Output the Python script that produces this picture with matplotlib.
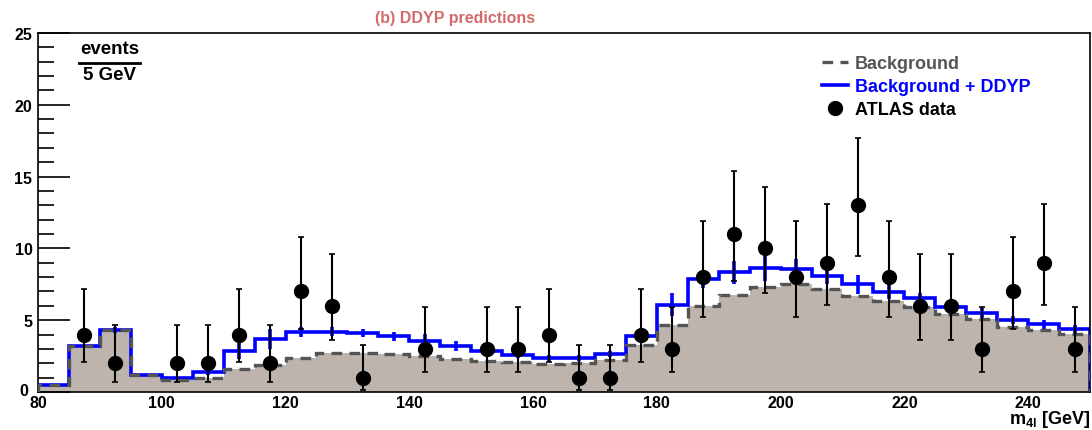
import matplotlib.pyplot as plt
from matplotlib.lines import Line2D
from matplotlib.transforms import ScaledTranslation
import numpy as np

plt.rcParams['font.family'] = ['Liberation Sans', 'DejaVu Sans']
plt.rcParams['font.weight'] = 'bold'
plt.rcParams['mathtext.fontset'] = 'custom'
plt.rcParams['mathtext.rm'] = 'Liberation Sans:bold'
plt.rcParams['mathtext.it'] = 'Liberation Sans:bold'

# 5 GeV bins between 80 and 250 GeV
bin_edges = np.arange(80, 255, 5)

background = [0.5, 3.23, 4.33, 1.18, 0.84, 0.98, 1.57, 1.88, 2.4, 2.68,
              2.71, 2.62, 2.5, 2.33, 2.17, 2.07, 1.98, 2.05, 2.24, 3.27,
              4.67, 5.98, 6.75, 7.32, 7.5, 7.17, 6.7, 6.33, 5.9, 5.45,
              5.05, 4.55, 4.33, 4.04]
bkg_plus_ddyp = [0.5, 3.23, 4.33, 1.18, 0.97, 1.38, 2.88, 3.69, 4.2, 4.2,
                 4.12, 3.88, 3.57, 3.22, 2.88, 2.57, 2.37, 2.37, 2.67, 3.9,
                 6.08, 7.87, 8.33, 8.63, 8.55, 8.1, 7.5, 6.99, 6.52, 5.95,
                 5.47, 5.02, 4.7, 4.39]
bkg_plus_ddyp_err = [0, 0.05, 0.2, 0.05, 0.1, 0.2, 0.6, 0.7, 0.35, 0.3,
                     0.3, 0.3, 0.45, 0.35, 0.2, 0.2, 0.2, 0.2, 0.2, 0.3,
                     0.8, 0.6, 0.8, 0.9, 0.7, 0.6, 0.65, 0.5, 0.4, 0.35,
                     0.35, 0.3, 0.3, 0.25]

data_mass = [87.5, 92.5, 102.5, 107.5, 112.5, 117.5, 122.5, 127.5, 132.5,
             142.5, 152.5, 157.5, 162.5, 167.5, 172.5, 177.5, 182.5, 187.5,
             192.5, 197.5, 202.5, 207.5, 212.5, 217.5, 222.5, 227.5, 232.5,
             237.5, 242.5, 247.5]
data_events = [4, 2, 2, 2, 4, 2, 7, 6, 1, 3, 3, 3, 4, 1, 1, 4, 3, 8, 11, 10,
               8, 9, 13, 8, 6, 6, 3, 7, 9, 3]
data_err_lo = [1.91, 1.29, 1.29, 1.29, 1.91, 1.29, 2.58, 2.38, 0.83, 1.63,
               1.63, 1.63, 1.91, 0.83, 0.83, 1.91, 1.63, 2.77, 3.26, 3.11,
               2.77, 2.94, 3.56, 2.77, 2.38, 2.38, 1.63, 2.58, 2.94, 1.63]
data_err_hi = [3.16, 2.64, 2.64, 2.64, 3.16, 2.64, 3.77, 3.58, 2.30, 2.92,
               2.92, 2.92, 3.16, 2.30, 2.30, 3.16, 2.92, 3.94, 4.40, 4.26,
               3.94, 4.11, 4.67, 3.94, 3.58, 3.58, 2.92, 3.77, 4.11, 2.92]

BLUE = '#0000ff'
GREY = '#555555'
FILL = '#bdb5ad'

fig = plt.figure(figsize=(10.92, 4.31), dpi=100)
ax = fig.add_axes([0.0348, 0.0882, 0.9634, 0.833])

centers = 0.5 * (bin_edges[:-1] + bin_edges[1:])

ax.stairs(background, bin_edges, fill=True, color=FILL, zorder=1)
ax.stairs(bkg_plus_ddyp, bin_edges, color=BLUE, linewidth=2.6, zorder=2)
ax.errorbar(centers, bkg_plus_ddyp, yerr=bkg_plus_ddyp_err, fmt='none',
            ecolor=BLUE, elinewidth=2.6, capsize=0, zorder=2)
ax.stairs(background, bin_edges, color=GREY, linewidth=2.4,
          linestyle=(0, (3.2, 2.2)), zorder=3)
ax.errorbar(data_mass, data_events, yerr=[data_err_lo, data_err_hi],
            fmt='o', color='black', markersize=10, elinewidth=1.5,
            capsize=2, capthick=1.2, zorder=4)

ax.set_xlim(80, 250)
ax.set_ylim(0, 25)
ax.set_xticks([80, 100, 120, 140, 160, 180, 200, 220, 240])
ax.set_yticks([0, 5, 10, 15, 20, 25])
ax.set_yticks(np.arange(0, 26, 1), minor=True)
ax.tick_params(axis='y', which='major', direction='in', length=23,
               width=1.2, labelsize=11.5, pad=4)
ax.tick_params(axis='y', which='minor', direction='in', length=11.5,
               width=1.2)
ax.tick_params(axis='x', which='both', length=0, labelsize=11.5, pad=2)
for lbl in ax.get_xticklabels() + ax.get_yticklabels():
    lbl.set_fontweight('bold')
for side in ['left', 'bottom', 'top', 'right']:
    ax.spines[side].set_linewidth(1.2)

# nudge the "0" label clear of the "80" below it
zero_lbl = ax.get_yticklabels()[0]
zero_lbl.set_transform(zero_lbl.get_transform() +
                       ScaledTranslation(-3 / 72, 2 / 72, fig.dpi_scale_trans))

# y-axis title drawn as a fraction inside the frame
ax.text(0.04, 0.956, 'events', transform=ax.transAxes, fontsize=13.5,
        ha='left', va='center')
ax.add_line(Line2D([0.039, 0.0965], [0.917, 0.917], transform=ax.transAxes,
                   color='black', linewidth=2))
ax.text(0.0425, 0.885, '5 GeV', transform=ax.transAxes, fontsize=13.5,
        ha='left', va='center')

fig.text(0.998, 0.017, r'm$_{\mathrm{4l}}$ [GeV]', ha='right',
         va='baseline', fontsize=13)
fig.text(0.417, 0.958, '(b) DDYP predictions', ha='center', va='center',
         fontsize=11.5, color='#d46a6a')

handles = [
    Line2D([], [], color=GREY, linewidth=2.4, linestyle=(0, (3.2, 2.2))),
    Line2D([], [], color=BLUE, linewidth=2.6),
    Line2D([], [], color='black', marker='o', markersize=10, linestyle='none'),
]
ax.legend(handles, ['Background', 'Background + DDYP', 'ATLAS data'],
          loc='upper left', bbox_to_anchor=(0.73, 0.983), frameon=False,
          fontsize=13, handlelength=1.4, handletextpad=0.4,
          labelspacing=0.33, labelcolor=[GREY, BLUE, 'black'])

fig.savefig('out.png', dpi=100)
